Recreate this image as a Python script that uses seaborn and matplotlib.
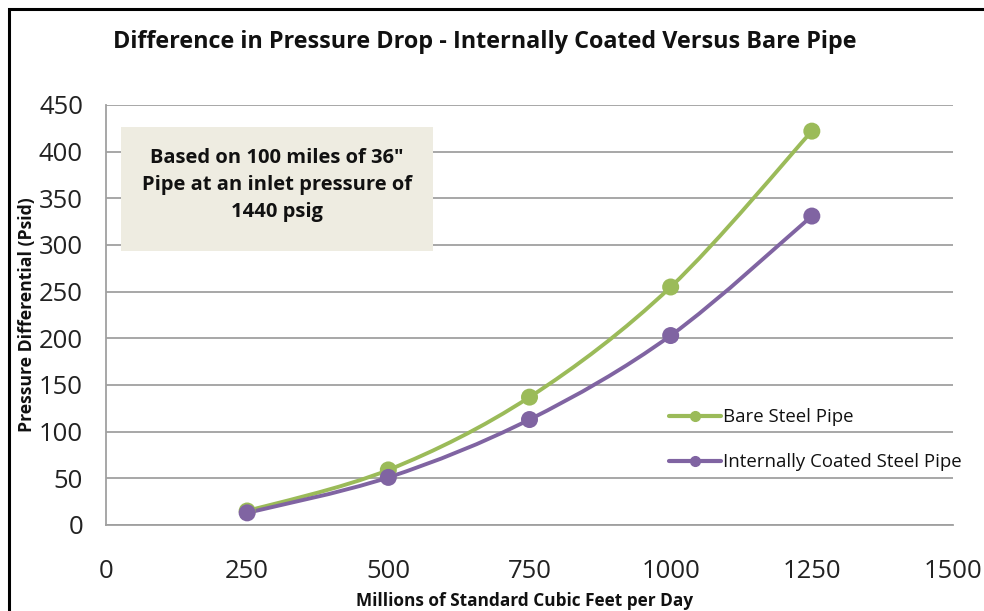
import numpy as np
import pandas as pd
import seaborn as sns
import matplotlib
matplotlib.use("Agg")
import matplotlib.pyplot as plt
from matplotlib.path import Path
from matplotlib.patches import PathPatch, Rectangle
from matplotlib.lines import Line2D

# ---- data ----
flow = [250, 500, 750, 1000, 1250]
bare = [15, 59, 137, 255, 422]
coated = [13, 51, 113, 203, 331]
series_names = ["Bare Steel Pipe", "Internally Coated Steel Pipe"]
colors = ["#9BBB59", "#8064A2"]
x_ticks = [0, 250, 500, 750, 1000, 1250, 1500]
y_ticks = [0, 50, 100, 150, 200, 250, 300, 350, 400, 450]
title = "Difference in Pressure Drop - Internally Coated Versus Bare Pipe"
xlabel = "Millions of Standard Cubic Feet per Day"
ylabel = "Pressure Differential (Psid)"
note = 'Based on 100 miles of 36"\nPipe at an inlet pressure of\n1440 psig'

df = pd.DataFrame({
    "flow": flow * 2,
    "dp": bare + coated,
    "series": [series_names[0]] * len(flow) + [series_names[1]] * len(flow),
})

sns.set_theme(style="white")
plt.rcParams["font.family"] = ["Open Sans", "DejaVu Sans"]

W, H = 984, 611
fig = plt.figure(figsize=(W / 100, H / 100), dpi=100)
ax = fig.add_axes([106 / W, 1 - 525 / H, (953 - 106) / W, (525 - 105) / H])


def smooth_path(xs, ys):
    pts = np.column_stack([xs, ys]).astype(float)
    verts = [pts[0]]
    codes = [Path.MOVETO]
    n = len(pts)
    for i in range(n - 1):
        p0 = pts[i - 1] if i > 0 else pts[i]
        p1 = pts[i]
        p2 = pts[i + 1]
        p3 = pts[i + 2] if i + 2 < n else pts[i + 1]
        c1 = p1 + (p2 - p0) / 6.0
        c2 = p2 - (p3 - p1) / 6.0
        verts += [c1, c2, p2]
        codes += [Path.CURVE4] * 3
    return Path(verts, codes)


for name, col in zip(series_names, colors):
    sub = df[df["series"] == name]
    ax.add_patch(PathPatch(smooth_path(sub["flow"].values, sub["dp"].values),
                           facecolor="none", edgecolor=col, lw=2.8,
                           capstyle="round", joinstyle="round", zorder=3))

sns.scatterplot(data=df, x="flow", y="dp", hue="series", palette=colors,
                s=150, edgecolor="none", legend=False, ax=ax, zorder=4)

ax.set_xlim(0, 1500)
ax.set_ylim(0, 450)
ax.set_xticks(x_ticks)
ax.set_yticks(y_ticks)
ax.tick_params(axis="both", labelsize=14, labelcolor="#222222")
ax.tick_params(axis="x", length=6.5, width=1.3, color="#A0A0A0", direction="out", pad=18)
ax.tick_params(axis="y", length=6.5, width=1.3, color="#A0A0A0", direction="out", pad=10)
ax.yaxis.grid(True, color="#A0A0A0", lw=1.3)
ax.xaxis.grid(False)
for s in ["top", "right"]:
    ax.spines[s].set_visible(False)
for s in ["left", "bottom"]:
    ax.spines[s].set_color("#A0A0A0")
    ax.spines[s].set_linewidth(1.3)
ax.set_axisbelow(True)

ax.set_xlabel("")
ax.set_ylabel("")
xl = fig.text(525 / W, 1 - 601 / H, xlabel, fontsize=11, fontweight="bold",
              ha="center", va="center", color="#111111")
yl = fig.text(27 / W, 1 - 315 / H, ylabel, fontsize=11, fontweight="bold",
              ha="center", va="center", rotation=90, color="#111111")

tt = fig.text(485 / W, 1 - 42 / H, title, fontsize=15, fontweight="bold",
              ha="center", va="center", color="#111111")

# note box
fig.patches.append(Rectangle((121 / W, 1 - 251 / H), (433 - 121) / W, (251 - 127) / H,
                             transform=fig.transFigure, facecolor="#EEECE1",
                             edgecolor="none", zorder=5))
nt = fig.text(277 / W, 1 - 185 / H, note, fontsize=12.5, fontweight="bold",
              ha="center", va="center", linespacing=1.45, color="#111111", zorder=6)

handles = [Line2D([0], [0], color=c, lw=3, marker="o", markersize=7) for c in colors]
leg = ax.legend(handles, series_names, loc="center left",
                bbox_to_anchor=(660 / W, 1 - 439.5 / H), bbox_transform=fig.transFigure,
                frameon=False, fontsize=12.5, handlelength=3.0, handletextpad=0.15,
                labelspacing=1.55, borderpad=0)
for t in leg.get_texts():
    t.set_color("#111111")

# ---- fit text sizes to the reference's measured widths ----
fig.canvas.draw()
r = fig.canvas.get_renderer()


def fit(t, target):
    w = t.get_window_extent(r).width
    t.set_fontsize(t.get_fontsize() * target / w)


fit(tt, 745)
fit(xl, 338)
lbl = [t for t in ax.get_xticklabels() if t.get_text() == "1500"][0]
f = 59 / lbl.get_window_extent(r).width
ax.tick_params(axis="both", labelsize=14 * f)
fig.canvas.draw()
yw = yl.get_window_extent(r).height
yl.set_fontsize(yl.get_fontsize() * 235 / yw)
fit(nt, 269)
lt = leg.get_texts()[1]
lf = 240 / lt.get_window_extent(r).width
for t in leg.get_texts():
    t.set_fontsize(t.get_fontsize() * lf)

# figure border (top and left visible)
fig.patches.append(Rectangle((9 / W, -0.05), 1.2, 1 - 9 / H + 0.05,
                             transform=fig.transFigure, facecolor="none",
                             edgecolor="black", lw=2.2, zorder=10))

fig.savefig("out.png", dpi=100)
